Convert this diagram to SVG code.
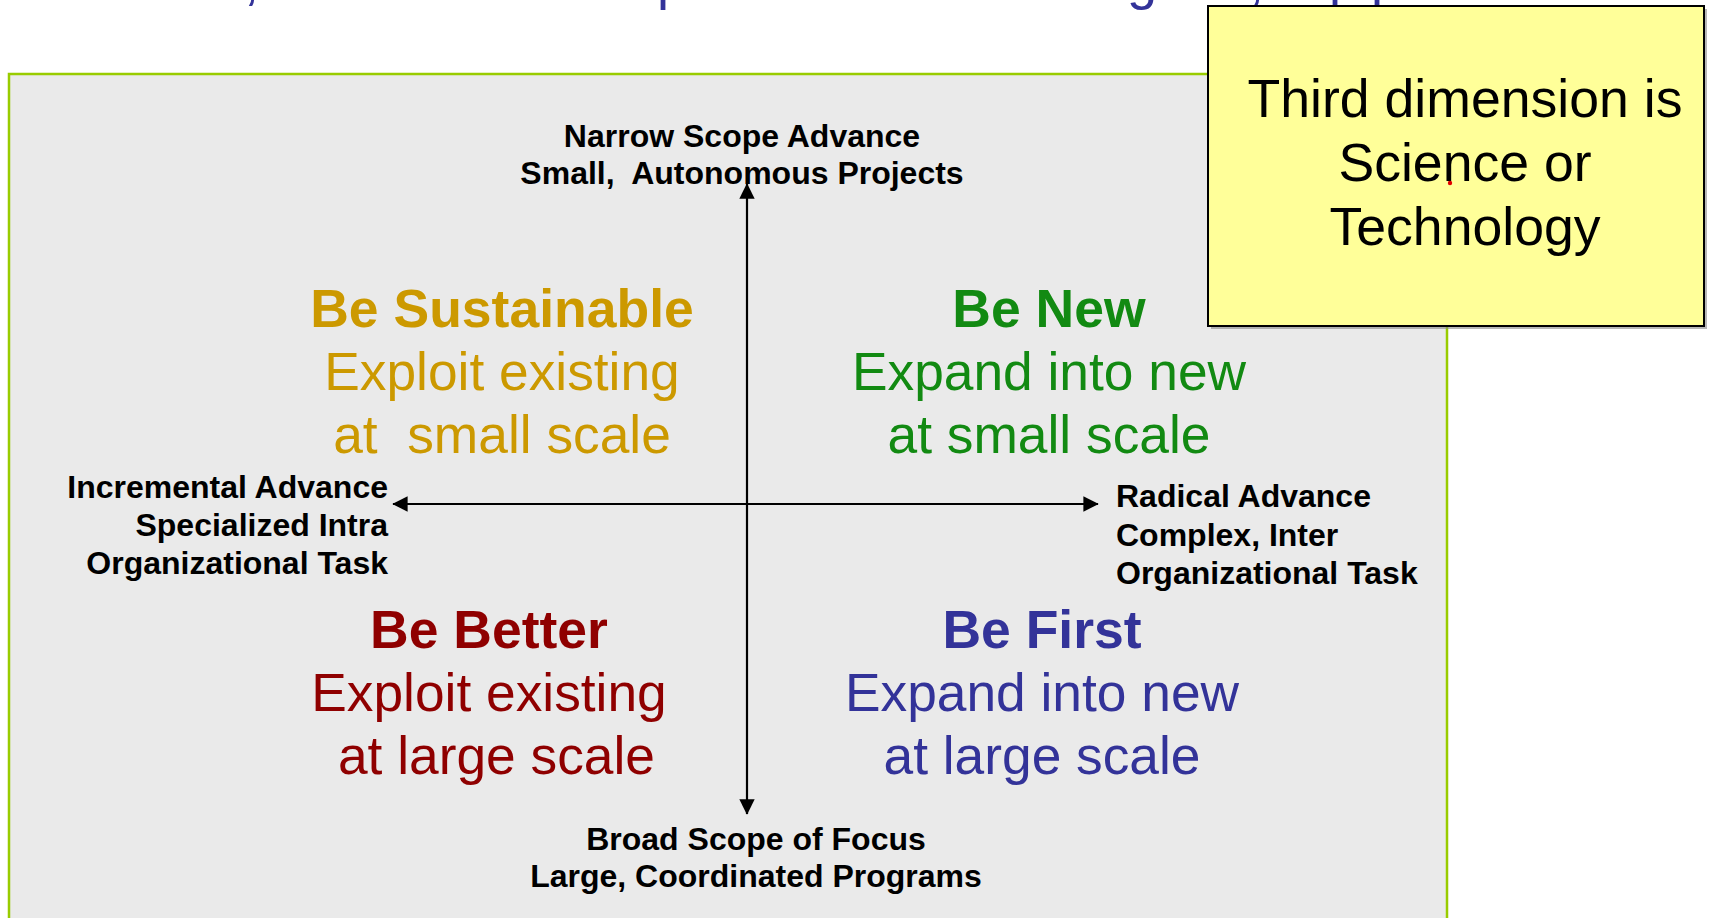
<svg xmlns="http://www.w3.org/2000/svg" width="1710" height="918" viewBox="0 0 1710 918">
  <style>
    .title { font-family: "Liberation Sans", Arial, sans-serif; font-size: 54px; fill: #333399; }
    .axis { font-family: "Liberation Sans", Arial, sans-serif; font-size: 32px; font-weight: bold; fill: #000; white-space: pre; }
    .qh { font-family: "Liberation Sans", Arial, sans-serif; font-size: 53.5px; font-weight: bold; text-anchor: middle; white-space: pre; }
    .qb { font-family: "Liberation Sans", Arial, sans-serif; font-size: 53.3px; text-anchor: middle; white-space: pre; }
    .note { font-family: "Liberation Sans", Arial, sans-serif; font-size: 53.6px; fill: #000; text-anchor: middle; }
    .gold { fill: #cc9900; }
    .green { fill: #128a12; }
    .red { fill: #8f0000; }
    .blue { fill: #333399; }
    .line { stroke: #000; stroke-width: 2.2; fill: none; }
  </style>
  <defs>
    <marker id="arrow" viewBox="0 0 10 10" refX="9.5" refY="5" markerWidth="7" markerHeight="7" markerUnits="strokeWidth" orient="auto-start-reverse">
      <path d="M0,0 L10,5 L0,10 Z" fill="#000"/>
    </marker>
  </defs>

  <rect width="1710" height="918" fill="#ffffff"/>

  <!-- heading line running off the top edge: only its descenders remain in view -->
  <g id="heading">
    <text class="title" x="244" y="-1">,</text>
    <text class="title" x="657" y="-1">p</text>
    <text class="title" x="1127" y="-1">g</text>
    <text class="title" x="1249" y="-1">,</text>
    <text class="title" x="1329" y="-1">p</text>
    <text class="title" x="1371" y="-1">p</text>
  </g>

  <!-- main panel -->
  <rect id="panel" x="9" y="74" width="1438" height="860" fill="#eaeaea" stroke="#99cc00" stroke-width="2.5"/>

  <!-- axes -->
  <g id="connectors">
    <line class="line" x1="747" y1="814" x2="747" y2="184" marker-end="url(#arrow)" marker-start="url(#arrow)"/>
    <line class="line" x1="393" y1="504" x2="1098" y2="504" marker-end="url(#arrow)" marker-start="url(#arrow)"/>
  </g>

  <!-- axis end labels -->
  <g id="axis-top">
    <text class="axis" x="742" y="147" text-anchor="middle">Narrow Scope Advance</text>
    <text class="axis" x="742" y="184" text-anchor="middle">Small,  Autonomous Projects</text>
  </g>
  <g id="axis-bottom">
    <text class="axis" x="756" y="850" text-anchor="middle">Broad Scope of Focus</text>
    <text class="axis" x="756" y="887" text-anchor="middle">Large, Coordinated Programs</text>
  </g>
  <g id="axis-left">
    <text class="axis" x="388" y="498" text-anchor="end">Incremental Advance</text>
    <text class="axis" x="388" y="536" text-anchor="end">Specialized Intra</text>
    <text class="axis" x="388" y="574" text-anchor="end">Organizational Task</text>
  </g>
  <g id="axis-right">
    <text class="axis" x="1116" y="507" text-anchor="start">Radical Advance</text>
    <text class="axis" x="1116" y="546" text-anchor="start">Complex, Inter</text>
    <text class="axis" x="1116" y="584" text-anchor="start">Organizational Task</text>
  </g>

  <!-- quadrants -->
  <g id="be-sustainable">
    <text class="qh gold" x="502" y="327">Be Sustainable</text>
    <text class="qb gold" x="502" y="390">Exploit existing</text>
    <text class="qb gold" x="502" y="453">at  small scale</text>
  </g>
  <g id="be-new">
    <text class="qh green" x="1049" y="327">Be New</text>
    <text class="qb green" x="1049" y="390">Expand into new</text>
    <text class="qb green" x="1049" y="453">at small scale</text>
  </g>
  <g id="be-better">
    <text class="qh red" x="489" y="648">Be Better</text>
    <text class="qb red" x="489" y="711">Exploit existing</text>
    <text class="qb red" x="489" y="774"> at large scale</text>
  </g>
  <g id="be-first">
    <text class="qh blue" x="1042" y="648">Be First</text>
    <text class="qb blue" x="1042" y="711">Expand into new</text>
    <text class="qb blue" x="1042" y="774">at large scale</text>
  </g>

  <!-- callout note -->
  <g id="note">
    <rect x="1211" y="9" width="496" height="320" fill="#888888" opacity="0.6"/>
    <rect x="1208" y="6" width="496" height="320" fill="#ffff99" stroke="#000" stroke-width="2"/>
    <text class="note" x="1465" y="117">Third dimension is</text>
    <text class="note" x="1465" y="181">Science or</text>
    <text class="note" x="1465" y="245">Technology</text>
    <circle cx="1450" cy="183" r="2.2" fill="#e00000"/>
  </g>
</svg>
